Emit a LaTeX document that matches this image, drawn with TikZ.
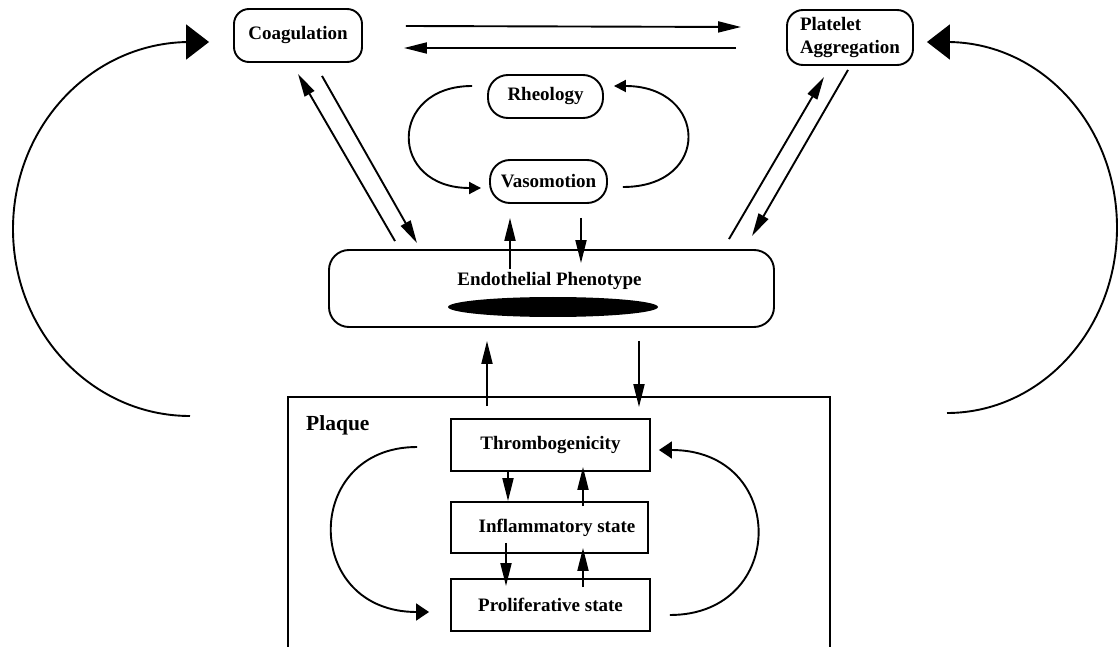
\documentclass[tikz,border=0pt]{standalone}
\usepackage{fontspec}
\setmainfont{Liberation Serif}
\usetikzlibrary{arrows.meta,calc}
\newcommand{\boxfont}{\bfseries\fontsize{19}{23}\selectfont}
\tikzset{
  rbox/.style={draw, line width=1.9pt, rounded corners=16pt, font=\boxfont, inner sep=0pt},
  sbox/.style={draw, line width=1.9pt, font=\boxfont, inner sep=0pt},
  arr/.style={line width=1.9pt, -{Triangle[length=23pt,width=11pt]}},
  rarr/.style={line width=1.9pt, -{Triangle[length=12pt,width=12pt]}},
  carr/.style={line width=1.9pt, -{Triangle[length=13pt,width=17pt]}},
  bigarr/.style={line width=1.9pt, -{Triangle[length=23pt,width=35pt]}}
}

\begin{document}
\begin{tikzpicture}[x=1pt,y=-1pt]
\useasboundingbox (0,0) rectangle (1120,647);
\node[rbox, minimum width=128pt, minimum height=53pt, rounded corners=15pt] (coag) at (298,35.5) {Coagulation};
\node[rbox, minimum width=126pt, minimum height=55pt, align=left, text width=100pt, inner xsep=13pt] (plat) at (850,37.5) {Platelet\\Aggregation};
\node[rbox, minimum width=115pt, minimum height=43pt, rounded corners=20pt] (rheo) at (545.5,96.5) {Rheology};
\node[rbox, minimum width=117pt, minimum height=43pt, rounded corners=20pt] (vaso) at (548.5,181.5) {Vasomotion};
\node[rbox, minimum width=445pt, minimum height=77pt, rounded corners=20pt] (endo) at (551.5,288.5) {};
\node[font=\boxfont, inner sep=0pt] (endolbl) at ($(endo.center)+(-2,-7.5)$) {Endothelial Phenotype};
\fill ($(endo.center)+(1.5,18.5)$) ellipse [x radius=105, y radius=10];
\draw[line width=1.9pt] (288,647) |- (830,397) -- (830,647);
\node[font=\bfseries\fontsize{21.5}{25}\selectfont, anchor=west, inner sep=0pt] (plaque) at (306,425) {Plaque};
\node[sbox, minimum width=199pt, minimum height=52pt] (thr) at (550.5,445) {Thrombogenicity};
\node[sbox, minimum width=197pt, minimum height=51pt] (inf) at (549.5,527.5) {\hspace{15pt}Inflammatory state};
\node[sbox, minimum width=199pt, minimum height=52pt] (pro) at (550.5,605) {Proliferative state};
\draw[arr] ($(coag.east)+(43,-9.5)$) -- ($(plat.west)+(-45,-10.5)$);
\draw[arr] ($(plat.west)+(-50,10.5)$) -- ($(coag.east)+(41,12.5)$);
\draw[arr] ($(endo.north)+(-156.5,-8)$) -- ($(coag.south)+(0,11)$);
\draw[arr] ($(coag.south)+(24,13)$) -- ($(endo.north)+(-134.5,-6)$);
\draw[arr] ($(endo.north)+(177.5,-10)$) -- ($(plat.south)+(-26,11)$);
\draw[arr] ($(plat.south)+(-2,4)$) -- ($(endo.north)+(200.5,-13)$);
\draw[rarr] ($(rheo.west)+(-15,-10.5)$) .. controls +(-84,0) and +(-93,0) .. ($(vaso.west)+(-8,6.5)$);
\draw[rarr] ($(vaso.east)+(15,5.5)$) .. controls +(89,0) and +(94,0) .. ($(rheo.east)+(10,-10.5)$);
\draw[arr] ($(endo.north)+(-41.5,20)$) -- ($(vaso.south)+(-38.5,14)$);
\draw[arr] ($(vaso.south)+(32.5,14)$) -- ($(endo.north)+(29.5,14)$);
\draw[arr] ($(thr.north)+(-63.5,-12)$) -- ($(endo.south)+(-64.5,13)$);
\draw[arr] ($(endo.south)+(87.5,13)$) -- ($(thr.north)+(88.5,-11)$);
\draw[arr] ($(thr.south)+(-42.5,0)$) -- ($(inf.north)+(-41.5,0)$);
\draw[arr] ($(inf.north)+(33.5,5)$) -- ($(thr.south)+(32.5,-5)$);
\draw[arr] ($(inf.south)+(-43.5,-11)$) -- ($(pro.north)+(-44.5,8)$);
\draw[arr] ($(pro.north)+(32.5,9)$) -- ($(inf.south)+(33.5,-6)$);
\draw[carr] ($(thr.west)+(-33,2)$) .. controls +(-115,0) and +(-127,0) .. ($(pro.west)+(-21,7)$);
\draw[carr] ($(pro.east)+(19,10)$) .. controls +(118,0) and +(129,0) .. ($(thr.east)+(8,5)$);
\coordinate (lstart) at (190,416);
\coordinate (rstart) at (947,413);
\draw[bigarr] (lstart) arc[start angle=90, end angle=270, x radius=177, y radius=187] -- ($(coag.west)+(-24,6.5)$);
\draw[bigarr] (rstart) arc[start angle=90, end angle=-90, x radius=170, y radius=185.5] -- ($(plat.east)+(13,4.5)$);
\end{tikzpicture}
\end{document}
